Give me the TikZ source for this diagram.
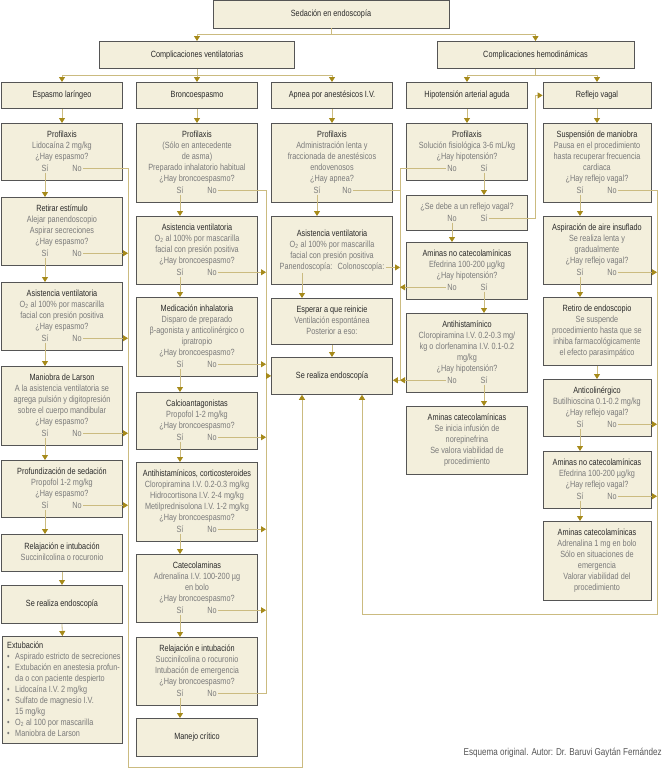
\documentclass[tikz,border=0pt]{standalone}
\usepackage{fontspec}
\setmainfont{Liberation Sans}[FakeStretch=0.81]
\usetikzlibrary{arrows.meta}
\definecolor{boxc}{HTML}{F3EFDC}
\definecolor{bordc}{HTML}{555555}
\definecolor{linec}{HTML}{CBBB80}
\definecolor{arrc}{HTML}{A68A1A}
\definecolor{titlec}{HTML}{2A2A2A}
\definecolor{bodyc}{HTML}{7A7A7A}
\definecolor{footc}{HTML}{555555}
\newcommand\mystrut{\rule[-3pt]{0pt}{11pt}}
\newcommand\ttl[1]{\mystrut\textcolor{titlec}{#1}}
\newcommand\bul{\makebox[8pt][l]{•}}
\newcommand\yesno[3]{%
  \node[yn] (#1y) at ([xshift=#2,yshift=9.5pt]#1.south) {Sí};
  \node[yn] (#1n) at ([xshift=#3,yshift=9.5pt]#1.south) {No};}
\begin{document}
\begin{tikzpicture}[x=1pt,y=-1pt,
  box/.style={draw=bordc, fill=boxc, line width=0.8pt, anchor=north, inner sep=0pt,
    align=center, text=bodyc, font=\fontsize{9}{11}\selectfont, minimum height=#1},
  wa/.style={minimum width=121pt},
  wb/.style={minimum width=108pt},
  yn/.style={anchor=base, inner sep=1pt, text=bodyc, font=\fontsize{9}{11}\selectfont},
  ln/.style={draw=linec, line width=0.8pt},
  arr/.style={ln, -{Triangle[width=6pt,length=5pt,color=arrc]}},
]
\fill[white] (0,0) rectangle (664,771);
\useasboundingbox (0,0) rectangle (664,771);

% top levels
\node[box=27pt, minimum width=236pt] (top) at (331,0.5) {\ttl{Sedación en endoscopía}};
\node[box=27pt, minimum width=195pt] (cv) at (197,41) {\ttl{Complicaciones ventilatorias}};
\node[box=27pt, minimum width=197pt] (ch) at (535.5,41) {\ttl{Complicaciones hemodinámicas}};
\node[box=26pt, wa] (h1) at (62,82) {\ttl{Espasmo laríngeo}};
\node[box=26pt, wa] (h2) at (197,82) {\ttl{Broncoespasmo}};
\node[box=26pt, wa] (h3) at (332,82) {\ttl{Apnea por anestésicos I.V.}};
\node[box=26pt, wa] (h4) at (467,82) {\ttl{Hipotensión arterial aguda}};
\node[box=26pt, wb] (h5) at (597,82) {\ttl{Reflejo vagal}};

% column 1
\node[box=57pt, wa] (a1) at (62,123) {\ttl{Profilaxis}\\Lidocaína 2 mg/kg\\¿Hay espasmo?\\\mystrut};
\node[box=68pt, wa] (a2) at (62,197) {\ttl{Retirar estímulo}\\Alejar panendoscopio\\Aspirar secreciones\\¿Hay espasmo?\\\mystrut};
\node[box=68pt, wa] (a3) at (62,282) {\ttl{Asistencia ventilatoria}\\O\textsubscript{2} al 100\% por mascarilla\\facial con presión positiva\\¿Hay espasmo?\\\mystrut};
\node[box=79pt, wa] (a4) at (62,366) {\ttl{Maniobra de Larson}\\A la asistencia ventilatoria se\\agrega pulsión y digitopresión\\sobre el cuerpo mandibular\\¿Hay espasmo?\\\mystrut};
\node[box=57pt, wa] (a5) at (62,460) {\ttl{Profundización de sedación}\\Propofol 1-2 mg/kg\\¿Hay espasmo?\\\mystrut};
\node[box=37pt, wa] (a6) at (62,534) {\ttl{Relajación e intubación}\\Succinilcolina o rocuronio\mystrut};
\node[box=38pt, wa] (a7) at (62,585) {\ttl{Se realiza endoscopía}};
\node[box=107pt, anchor=north west, minimum width=120pt] (a8) at (2,636) {};
\node[anchor=north west, inner sep=0pt, align=left, text=bodyc, font=\fontsize{9}{11}\selectfont] (a8t) at (7,640)
 {\ttl{Extubación}\\
  \bul Aspirado estricto de secreciones\\
  \bul Extubación en anestesia profun-\\
  \hspace*{8pt}da o con paciente despierto\\
  \bul Lidocaína I.V. 2 mg/kg\\
  \bul Sulfato de magnesio I.V.\\
  \hspace*{8pt}15 mg/kg\\
  \bul O\textsubscript{2} al 100 por mascarilla\\
  \bul Maniobra de Larson\mystrut};
\yesno{a1}{-17pt}{15pt}
\yesno{a2}{-17pt}{15pt}
\yesno{a3}{-17pt}{15pt}
\yesno{a4}{-17pt}{15pt}
\yesno{a5}{-17pt}{15pt}

% column 2
\node[box=79pt, wa] (b1) at (197,123) {\ttl{Profilaxis}\\(Sólo en antecedente\\de asma)\\Preparado inhalatorio habitual\\¿Hay broncoespasmo?\\\mystrut};
\node[box=68pt, wa] (b2) at (197,216) {\ttl{Asistencia ventilatoria}\\O\textsubscript{2} al 100\% por mascarilla\\facial con presión positiva\\¿Hay broncoespasmo?\\\mystrut};
\node[box=79pt, wa] (b3) at (197,297) {\ttl{Medicación inhalatoria}\\Disparo de preparado\\β-agonista y anticolinérgico o\\ipratropio\\¿Hay broncoespasmo?\\\mystrut};
\node[box=57pt, wa] (b4) at (197,392) {\ttl{Calcioantagonistas}\\Propofol 1-2 mg/kg\\¿Hay broncoespasmo?\\\mystrut};
\node[box=79pt, wa] (b5) at (197,462) {\ttl{Antihistamínicos, corticosteroides}\\Cloropiramina I.V. 0.2-0.3 mg/kg\\Hidrocortisona I.V. 2-4 mg/kg\\Metilprednisolona I.V. 1-2 mg/kg\\¿Hay broncoespasmo?\\\mystrut};
\node[box=68pt, wa] (b6) at (197,554) {\ttl{Catecolaminas}\\Adrenalina I.V. 100-200 µg\\en bolo\\¿Hay broncoespasmo?\\\mystrut};
\node[box=68pt, wa] (b7) at (197,637) {\ttl{Relajación e intubación}\\Succinilcolina o rocuronio\\Intubación de emergencia\\¿Hay broncoespasmo?\\\mystrut};
\node[box=38pt, wa] (b8) at (197,718) {\ttl{Manejo crítico}};
\yesno{b1}{-17pt}{15pt}
\yesno{b2}{-17pt}{15pt}
\yesno{b3}{-17pt}{15pt}
\yesno{b4}{-17pt}{15pt}
\yesno{b5}{-17pt}{15pt}
\yesno{b6}{-17pt}{15pt}
\yesno{b7}{-17pt}{15pt}

% column 3
\node[box=79pt, wa] (c1) at (332,123) {\ttl{Profilaxis}\\Administración lenta y\\fraccionada de anestésicos\\endovenosos\\¿Hay apnea?\\\mystrut};
\node[box=68pt, wa] (c2) at (332,216) {\ttl{Asistencia ventilatoria}\\O\textsubscript{2} al 100\% por mascarilla\\facial con presión positiva\\\mystrut};
\node[box=46pt, wa] (c3) at (332,298) {\ttl{Esperar a que reinicie}\\Ventilación espontánea\\Posterior a eso:\mystrut};
\node[box=37pt, wa] (c4) at (332,357) {\ttl{Se realiza endoscopía}};
\yesno{c1}{-15pt}{15pt}
\node[yn] (c2p) at ([xshift=-26pt,yshift=15pt]c2.south) {Panendoscopía:};
\node[yn] (c2c) at ([xshift=29pt,yshift=15pt]c2.south) {Colonoscopía:};

% column 4
\node[box=57pt, wa] (d1) at (467,123) {\ttl{Profilaxis}\\Solución fisiológica 3-6 mL/kg\\¿Hay hipotensión?\\\mystrut};
\node[box=35pt, wa] (d2) at (467,195) {\mystrut¿Se debe a un reflejo vagal?\\\mystrut};
\node[box=57pt, wa] (d3) at (467,242) {\ttl{Aminas no catecolamínicas}\\Efedrina 100-200 µg/kg\\¿Hay hipotensión?\\\mystrut};
\node[box=79pt, wa] (d4) at (467,313) {\ttl{Antihistamínico}\\Cloropiramina I.V. 0.2-0.3 mg/\\kg o clorfenamina I.V. 0.1-0.2\\mg/kg\\¿Hay hipotensión?\\\mystrut};
\node[box=68pt, wa] (d5) at (467,406) {\ttl{Aminas catecolamínicas}\\Se inicia infusión de\\norepinefrina\\Se valora viabilidad de\\procedimiento\mystrut};
\yesno{d1}{17pt}{-15pt}
\yesno{d2}{17pt}{-15pt}
\yesno{d3}{17pt}{-15pt}
\yesno{d4}{17pt}{-15pt}

% column 5
\node[box=79pt, wb] (e1) at (597,123) {\ttl{Suspensión de maniobra}\\Pausa en el procedimiento\\hasta recuperar frecuencia\\cardiaca\\¿Hay reflejo vagal?\\\mystrut};
\node[box=68pt, wb] (e2) at (597,216) {\ttl{Aspiración de aire insuflado}\\Se realiza lenta y\\gradualmente\\¿Hay reflejo vagal?\\\mystrut};
\node[box=68pt, wb] (e3) at (597,297) {\ttl{Retiro de endoscopio}\\Se suspende\\procedimiento hasta que se\\inhiba farmacológicamente\\el efecto parasimpático\mystrut};
\node[box=57pt, wb] (e4) at (597,379) {\ttl{Anticolinérgico}\\Butilhioscina 0.1-0.2 mg/kg\\¿Hay reflejo vagal?\\\mystrut};
\node[box=57pt, wb] (e5) at (597,451) {\ttl{Aminas no catecolamínicas}\\Efedrina 100-200 µg/kg\\¿Hay reflejo vagal?\\\mystrut};
\node[box=79pt, wb] (e6) at (597,521) {\ttl{Aminas catecolamínicas}\\Adrenalina 1 mg en bolo\\Sólo en situaciones de\\emergencia\\Valorar viabilidad del\\procedimiento\mystrut};
\yesno{e1}{-17pt}{15pt}
\yesno{e2}{-17pt}{15pt}
\yesno{e4}{-17pt}{15pt}
\yesno{e5}{-17pt}{15pt}

\node[anchor=base east, inner sep=0pt, text=footc, font=\fontsize{10}{12}\selectfont] (foot) at (662,755) {Esquema original. Autor: Dr. Baruvi Gaytán Fernández};

% helper coordinates
\coordinate (v1) at (128,0);
\coordinate (v2) at (266,0);
\coordinate (v3) at (400,0);
\coordinate (v4) at (535,0);
\coordinate (v5) at (657,0);
\coordinate (bl) at (128,767);
\coordinate (r5) at (657,614);

% top connectors
\draw[arr] (top.south) -- ++(0,6) -| (cv.north);
\draw[arr] (top.south) -- ++(0,6) -| (ch.north);
\draw[arr] (cv.south) -- ++(0,7) -| (h1.north);
\draw[arr] (cv.south) -- (h2.north);
\draw[arr] (cv.south) -- ++(0,7) -| (h3.north);
\draw[arr] (ch.south) -- ++(0,7) -| (h4.north);
\draw[arr] (ch.south) -- ++(0,7) -| (h5.north);
\draw[arr] (h1.south) -- (a1.north);
\draw[arr] (h2.south) -- (b1.north);
\draw[arr] (h3.south) -- (c1.north);
\draw[arr] (h4.south) -- (d1.north);
\draw[arr] (h5.south) -- (e1.north);

% column 1 connectors
\draw[arr] (a1y.south) -- (a1y.south |- a2.north);
\draw[arr] (a2y.south) -- (a2y.south |- a3.north);
\draw[arr] (a3y.south) -- (a3y.south |- a4.north);
\draw[arr] (a4y.south) -- (a4y.south |- a5.north);
\draw[arr] (a5y.south) -- (a5y.south |- a6.north);
\draw[arr] (a6.south) -- (a7.north);
\draw[arr] (a7.south) -- (a8.north);
\draw[arr] (a1n.east) -| (bl) -| ([xshift=-30pt]c4.south);
\draw[arr] (a2n.east) -- (a2n.east -| v1);
\draw[arr] (a3n.east) -- (a3n.east -| v1);
\draw[arr] (a4n.east) -- (a4n.east -| v1);
\draw[arr] (a5n.east) -- (a5n.east -| v1);

% column 2 connectors
\draw[arr] (b1y.south) -- (b1y.south |- b2.north);
\draw[arr] (b2y.south) -- (b2y.south |- b3.north);
\draw[arr] (b3y.south) -- (b3y.south |- b4.north);
\draw[arr] (b4y.south) -- (b4y.south |- b5.north);
\draw[arr] (b5y.south) -- (b5y.south |- b6.north);
\draw[arr] (b6y.south) -- (b6y.south |- b7.north);
\draw[arr] (b7y.south) -- (b7y.south |- b8.north);
\draw[ln] (b1n.east) -| (v2 |- b7n.east) -- (b7n.east);
\draw[arr] (b2n.east) -- (b2n.east -| v2);
\draw[arr] (b3n.east) -- (b3n.east -| v2);
\draw[arr] (b4n.east) -- (b4n.east -| v2);
\draw[arr] (b5n.east) -- (b5n.east -| v2);
\draw[arr] (b6n.east) -- (b6n.east -| v2);
\draw[arr] (v2 |- c4.west) -- (c4.west);

% column 3 connectors
\draw[arr] (c1y.south) -- (c1y.south |- c2.north);
\draw[arr] ([xshift=-4pt]c2p.south) -- ([xshift=-4pt]c2p.south |- c3.north);
\draw[arr] (c3.south) -- (c4.north);
\draw[ln] (c1n.east) -- (c1n.east -| v3);
\draw[arr] (c2c.east) -- (c2c.east -| v3);

% column 4 connectors
\draw[ln] (d1n.west) -| (v3 |- d4n.west);
\draw[arr] (d3n.west) -- (d3n.west -| v3);
\draw[arr] (d4n.west) -- (d4n.west -| v3);
\draw[arr] (d4n.west -| v3) -- (d4n.west -| c4.east);
\draw[arr] (d1y.south) -- (d1y.south |- d2.north);
\draw[arr] (d2n.south) -- (d2n.south |- d3.north);
\draw[arr] (d2y.east) -| (v4 |- h5.west) -- (h5.west);
\draw[arr] (d3y.south) -- (d3y.south |- d4.north);
\draw[arr] (d4y.south) -- (d4y.south |- d5.north);

% column 5 connectors
\draw[arr] (e1y.south) -- (e1y.south |- e2.north);
\draw[arr] (e2y.south) -- (e2y.south |- e3.north);
\draw[arr] (e3.south) -- (e4.north);
\draw[arr] (e4y.south) -- (e4y.south |- e5.north);
\draw[arr] (e5y.south) -- (e5y.south |- e6.north);
\draw[arr] (e1n.east) -| (r5) -| ([xshift=30pt]c4.south);
\draw[arr] (e2n.east) -- (e2n.east -| v5);
\draw[arr] (e4n.east) -- (e4n.east -| v5);
\draw[arr] (e5n.east) -- (e5n.east -| v5);
\end{tikzpicture}
\end{document}
